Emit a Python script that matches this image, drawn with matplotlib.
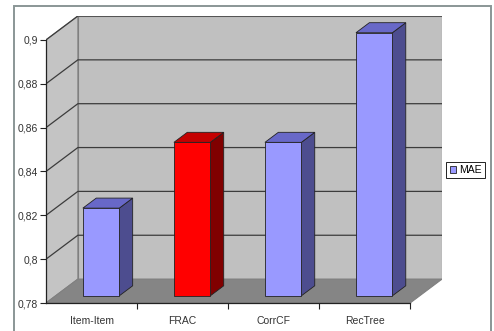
import matplotlib.pyplot as plt
from matplotlib.patches import Rectangle, Polygon

methods = ['Item-Item', 'FRAC', 'CorrCF', 'RecTree']
mae = [0.82, 0.85, 0.85, 0.90]
front_colors = ['#9999ff', '#ff0000', '#9999ff', '#9999ff']
side_colors = ['#4d4d8f', '#800000', '#4d4d8f', '#4d4d8f']
top_colors = ['#6868c8', '#c40000', '#6868c8', '#6868c8']
yticks = [0.78, 0.80, 0.82, 0.84, 0.86, 0.88, 0.90]
ytick_labels = ['0,78', '0,8', '0,82', '0,84', '0,86', '0,88', '0,9']

# depth direction of the fake 3d box, in data units (x categories, y value)
DX, DY = 0.35, 0.0109
ymin, ymax = 0.78, 0.90
n = len(methods)

fig = plt.figure(figsize=(4.94, 3.31), dpi=100)
ax = fig.add_axes([46 / 494, 28 / 331, 396 / 494, 287 / 331])
ax.set_xlim(-0.5, n - 0.5 + DX)
ax.set_ylim(ymin, ymax + DY)
ax.patch.set_visible(False)

wall = '#c0c0c0'
edge = '#808080'
# back wall
ax.add_patch(Rectangle((-0.5 + DX, ymin + DY), n, ymax - ymin, facecolor=wall,
                       edgecolor=edge, lw=0.8, zorder=1))
# left wall
ax.add_patch(Polygon([(-0.5, ymin), (-0.5, ymax), (-0.5 + DX, ymax + DY),
                      (-0.5 + DX, ymin + DY)], closed=True, facecolor='#c4c4c4',
                     edgecolor=edge, lw=0.8, zorder=1))
# floor
ax.add_patch(Polygon([(-0.5, ymin), (n - 0.5, ymin), (n - 0.5 + DX, ymin + DY),
                      (-0.5 + DX, ymin + DY)], closed=True, facecolor='#858585',
                     edgecolor=edge, lw=0.8, zorder=2))

# gridlines on both walls
for v in yticks[1:]:
    ax.plot([-0.5, -0.5 + DX, n - 0.5 + DX], [v, v + DY, v + DY],
            color='#3c3c3c', lw=0.9, zorder=1.5)

# bars
w = 0.4
f0, f1 = 0.3, 0.72
ox, oy = f0 * DX, f0 * DY
sx, sy = (f1 - f0) * DX, (f1 - f0) * DY
xs = [i + ox for i in range(n)]
ax.bar(xs, [v - ymin for v in mae], width=w, bottom=ymin + oy,
       color=front_colors, edgecolor='#222222', lw=0.6, zorder=4, label='MAE')
for x, v, sc, tc in zip(xs, mae, side_colors, top_colors):
    x0, x1 = x - w / 2, x + w / 2
    top = v + oy
    ax.add_patch(Polygon([(x1, ymin + oy), (x1, top), (x1 + sx, top + sy),
                          (x1 + sx, ymin + oy + sy)], closed=True, facecolor=sc,
                         edgecolor='#222222', lw=0.6, zorder=3))
    ax.add_patch(Polygon([(x0, top), (x1, top), (x1 + sx, top + sy),
                          (x0 + sx, top + sy)], closed=True, facecolor=tc,
                         edgecolor='#222222', lw=0.6, zorder=3))

# front axis line
ax.plot([-0.5, n - 0.5], [ymin, ymin], color='#222222', lw=0.9, zorder=5, clip_on=False)

for s in ['top', 'right', 'bottom']:
    ax.spines[s].set_visible(False)
ax.spines['left'].set_bounds(ymin, ymax)
ax.spines['left'].set_color('#222222')
ax.spines['left'].set_linewidth(0.9)

ax.set_yticks(yticks)
ax.set_yticklabels(ytick_labels)
ax.set_xticks(range(n))
ax.set_xticklabels(methods)
ax.set_xticks([i + 0.5 for i in range(n)], minor=True)
ax.tick_params(axis='x', which='major', length=0, pad=9)
ax.tick_params(axis='x', which='minor', length=4, width=0.8, color='#222222')
ax.tick_params(axis='y', length=4, width=0.8, color='#222222', pad=2)
for lab in ax.get_xticklabels() + ax.get_yticklabels():
    lab.set_fontfamily('Liberation Sans')
    lab.set_fontsize(7.5)
    lab.set_color('#333333')

leg = fig.legend(loc='center', bbox_to_anchor=(465.5 / 494, 1 - 170 / 331),
                 prop={'family': 'Liberation Sans', 'size': 7.5},
                 fancybox=False, edgecolor='#222222', framealpha=1,
                 handlelength=0.6, handleheight=0.6, handletextpad=0.3,
                 borderpad=0.3, borderaxespad=0)
leg.get_frame().set_linewidth(0.7)

# chart area frame
fig.patches.append(Rectangle((14 / 494, -0.05), 477 / 494, 1.05 - 6 / 331,
                             transform=fig.transFigure, fill=False,
                             edgecolor='#8a9696', lw=1.4))

fig.savefig('out.png', dpi=100)
